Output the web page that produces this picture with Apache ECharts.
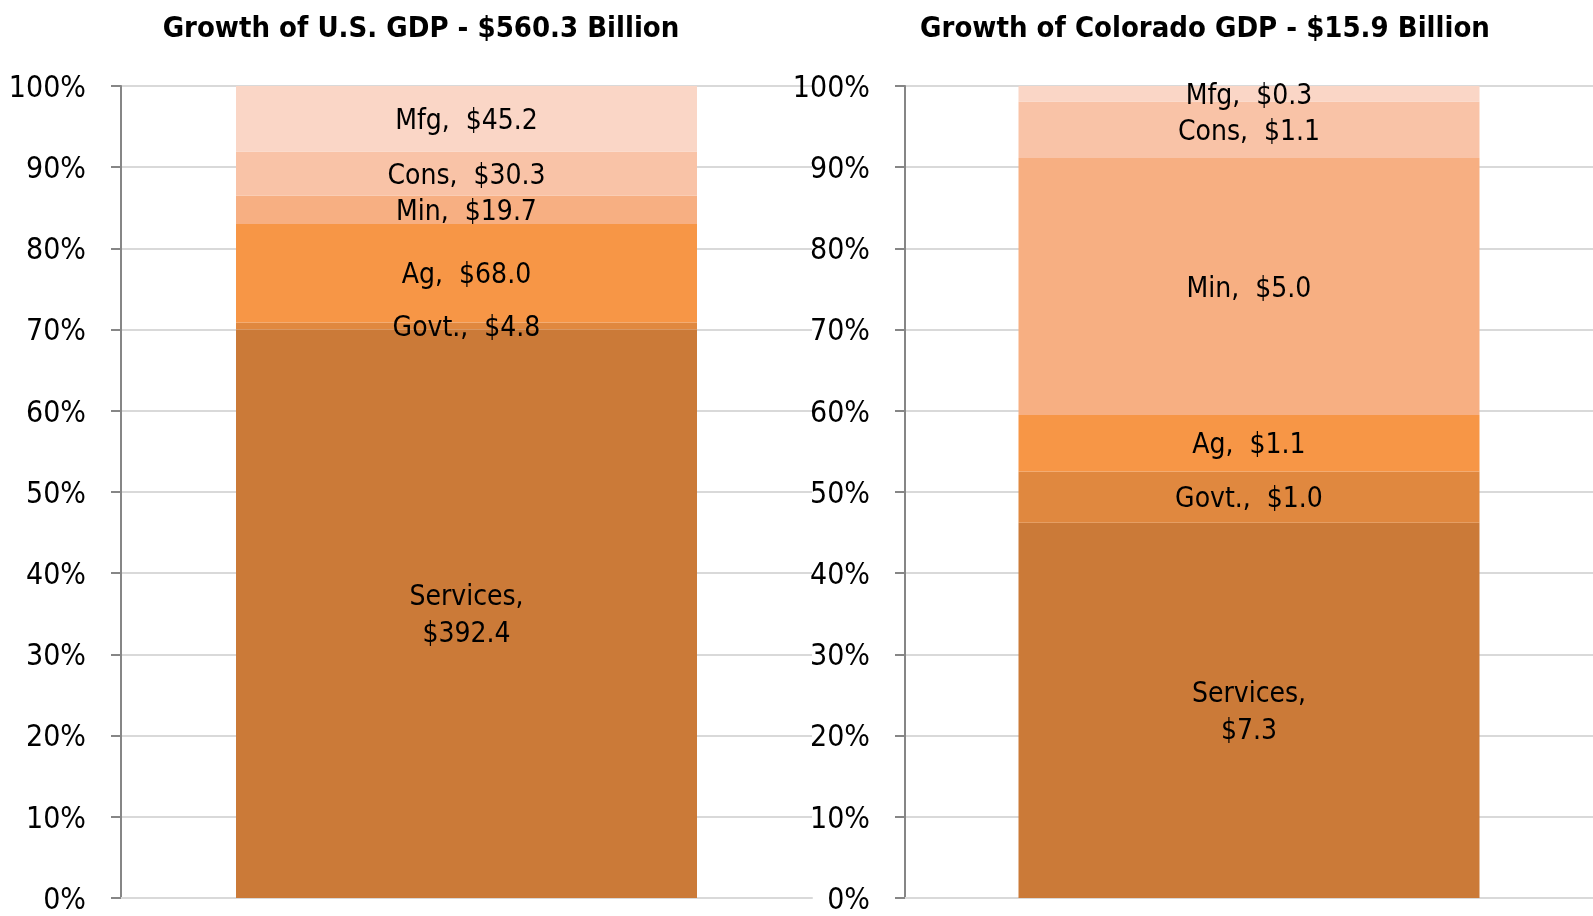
<!DOCTYPE html>
<html>
<head>
<meta charset="utf-8">
<title>GDP growth by sector</title>
<script src="https://cdn.jsdelivr.net/npm/echarts@6/dist/echarts.min.js"></script>
<style>
  html, body { margin: 0; padding: 0; background: #fff; }
  #chart { width: 1593px; height: 916px; }
</style>
</head>
<body>
<div id="chart"></div>
<script>
// sectors, bottom to top
const sectors = ['Services', 'Govt.', 'Ag', 'Min', 'Cons', 'Mfg']
// growth in billions of dollars
const usValues = [392.4, 4.8, 68.0, 19.7, 30.3, 45.2]
const coValues = [7.3, 1.0, 1.1, 5.0, 1.1, 0.3]
const titles = ['Growth of U.S. GDP - $560.3 Billion', 'Growth of Colorado GDP - $15.9 Billion']
const yTickLabels = ['0%', '10%', '20%', '30%', '40%', '50%', '60%', '70%', '80%', '90%', '100%']

const sectorColors = ['#CB7A38', '#E0883F', '#F79646', '#F7AF82', '#F9C3A7', '#FAD6C6']
const font = "'Liberation Sans Narrow', 'DejaVu Sans Condensed', 'Arial Narrow', sans-serif"

const chart = echarts.init(document.getElementById('chart'))

const sum = arr => arr.reduce((a, b) => a + b, 0)

const buildSeries = (values, idx) => {
  const total = sum(values)
  return sectors.map((name, i) => ({
    name: name,
    type: 'bar',
    stack: 'chart' + idx,
    xAxisIndex: idx,
    yAxisIndex: idx,
    barWidth: 461,
    itemStyle: { color: sectorColors[i] },
    label: {
      show: true,
      position: 'inside',
      offset: [0, 3],
      color: '#000',
      fontFamily: font,
      fontSize: 28,
      lineHeight: 37,
      formatter: p => p.seriesName + (p.seriesName === 'Services' ? ',\n$' : ',  $') + p.data.raw.toFixed(1)
    },
    data: [{ value: values[i] / total * 100, raw: values[i] }]
  }))
}

const axisPair = idx => ({
  x: {
    type: 'category',
    gridIndex: idx,
    data: [''],
    axisLine: { show: true, lineStyle: { color: '#d9d9d9', width: 2 } },
    axisTick: { show: false },
    axisLabel: { show: false }
  },
  y: {
    type: 'value',
    gridIndex: idx,
    min: 0,
    max: 100,
    interval: 10,
    axisLine: { show: true, lineStyle: { color: '#868686', width: 2 } },
    axisTick: { show: true, length: 10, lineStyle: { color: '#868686', width: 2 } },
    axisLabel: {
      color: '#000',
      fontFamily: font,
      fontSize: 30,
      margin: 35,
      formatter: v => '{t|' + yTickLabels[Math.round(v / 10)] + '}',
      rich: { t: { fontFamily: font, fontSize: 30, color: '#000', padding: [6, 0, 0, 0] } }
    },
    splitLine: { show: true, lineStyle: { color: '#d9d9d9', width: 2 } }
  }
})

const axes = [axisPair(0), axisPair(1)]

const titleStyle = { fontFamily: font, fontSize: 29, fontWeight: 'bold', color: '#000' }

const option = {
  animation: false,
  backgroundColor: '#fff',
  title: [
    { text: titles[0], left: 416, top: 10, textAlign: 'center', textStyle: titleStyle },
    { text: titles[1], left: 1200, top: 10, textAlign: 'center', textStyle: titleStyle }
  ],
  grid: [
    { left: 121, right: 781, top: 86, bottom: 16 },
    { left: 905, right: 0, top: 86, bottom: 16 }
  ],
  xAxis: axes.map(a => a.x),
  yAxis: axes.map(a => a.y),
  series: [...buildSeries(usValues, 0), ...buildSeries(coValues, 1)]
}

chart.setOption(option)
window.addEventListener('resize', () => chart.resize())
</script>
</body>
</html>
